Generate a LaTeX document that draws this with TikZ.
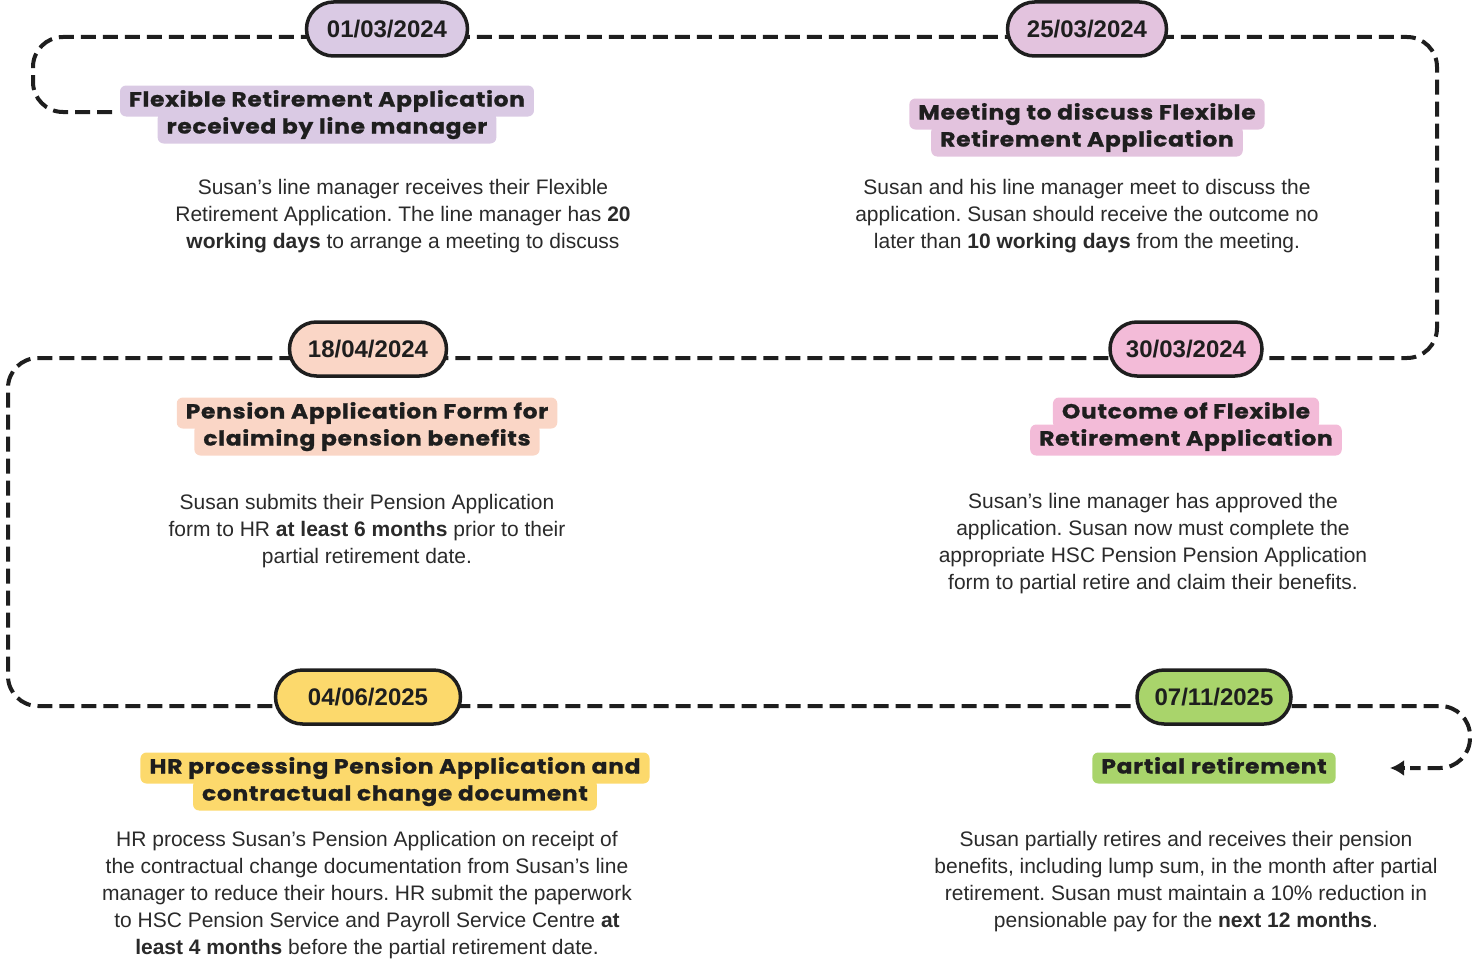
\documentclass[tikz,border=0pt]{standalone}
\usepackage{fontspec}
\usepackage{graphicx}
\setmainfont{Liberation Sans}
\newfontfamily\titlefont{Poppins}[LetterSpace=3, BoldFeatures={FakeBold=0.9}]
\newcommand{\ttxt}[1]{\scalebox{1.14}[1]{#1}}
\usetikzlibrary{shapes.misc,arrows.meta}
\definecolor{ink}{HTML}{1E1E1E}
\definecolor{bodyc}{HTML}{2A2A2A}
\definecolor{cA}{HTML}{DACAE4}
\definecolor{cB}{HTML}{E3C3DE}
\definecolor{cC}{HTML}{FAD6C6}
\definecolor{cD}{HTML}{F3BBD8}
\definecolor{cE}{HTML}{FCD96C}
\definecolor{cF}{HTML}{A9D46B}
\tikzset{
  flow/.style={draw=ink, line width=4pt, dash pattern=on 15pt off 7pt, rounded corners=30pt},
  pill/.style={rounded rectangle, draw=ink, line width=3.5pt, fill=#1, minimum height=54pt,
    font=\fontsize{24}{28}\selectfont\bfseries, text=ink, inner xsep=4pt},
  ttl/.style={fill=#1, rounded corners=6pt, font=\titlefont\fontsize{20.5}{23}\selectfont\bfseries,
    text=ink, inner xsep=9pt, inner ysep=6pt, text height=15pt, text depth=4pt},
  body/.style={align=center, font=\fontsize{21}{27}\selectfont, text=bodyc}
}
\begin{document}
\frenchspacing
\begin{tikzpicture}[x=1pt,y=-1pt]
\useasboundingbox (0,0) rectangle (1477,958);
% connectors
\coordinate (start) at (112,112);
\coordinate (endp) at (1390,768);
\draw[flow] (start) -- (33,112) -- (33,37) -- (1437,37) -- (1437,358) -- (8,358) -- (8,706) -- (1470,706) -- (1470,768) -- (1410,768);
\draw[draw=ink, line width=4pt, -{Latex[length=14pt,width=16pt]}] (1405,768) -- (endp);
% pills
\node[pill=cA, minimum width=169pt] (p1) at (387,29) {01/03/2024};
\node[pill=cB, minimum width=167pt] (p2) at (1087,29) {25/03/2024};
\node[pill=cC, minimum width=165pt] (p3) at (368,349) {18/04/2024};
\node[pill=cD, minimum width=160pt] (p4) at (1186,349) {30/03/2024};
\node[pill=cE, minimum width=193pt] (p5) at (368,697) {04/06/2025};
\node[pill=cF, minimum width=162pt] (p6) at (1214,697) {07/11/2025};
% titles
\node[ttl=cA] (t1a) at (327,101) {\ttxt{Flexible Retirement Application}};
\node[ttl=cA] (t1b) at (327,128) {\ttxt{received by line manager}};
\node[ttl=cB] (t2a) at (1087,114) {\ttxt{Meeting to discuss Flexible}};
\node[ttl=cB] (t2b) at (1087,141) {\ttxt{Retirement Application}};
\node[ttl=cC] (t3a) at (367,413) {\ttxt{Pension Application Form for}};
\node[ttl=cC] (t3b) at (367,440) {\ttxt{claiming pension benefits}};
\node[ttl=cD] (t4a) at (1186,413) {\ttxt{Outcome of Flexible}};
\node[ttl=cD] (t4b) at (1186,440) {\ttxt{Retirement Application}};
\node[ttl=cE] (t5a) at (395,768) {\ttxt{HR processing Pension Application and}};
\node[ttl=cE] (t5b) at (395,795) {\ttxt{contractual change document}};
\node[ttl=cF] (t6) at (1214,768) {\ttxt{Partial retirement}};
% bodies
\node[body] (b1) at (403,216) {Susan’s line manager receives their Flexible\\Retirement Application. The line manager has \textbf{20}\\\textbf{working days} to arrange a meeting to discuss};
\node[body] (b2) at (1087,216) {Susan and his line manager meet to discuss the\\application. Susan should receive the outcome no\\later than \textbf{10 working days} from the meeting.};
\node[body] (b3) at (367,531) {Susan submits their Pension Application\\form to HR \textbf{at least 6 months} prior to their\\partial retirement date.};
\node[body] (b4) at (1153,544) {Susan’s line manager has approved the\\application. Susan now must complete the\\appropriate HSC Pension Pension Application\\form to partial retire and claim their benefits.};
\node[body] (b5) at (367,895) {HR process Susan's Pension Application on receipt of\\the contractual change documentation from Susan's line\\manager to reduce their hours. HR submit the paperwork\\to HSC Pension Service and Payroll Service Centre \textbf{at}\\\textbf{least 4 months} before the partial retirement date.};
\node[body] (b6) at (1186,882) {Susan partially retires and receives their pension\\benefits, including lump sum, in the month after partial\\retirement. Susan must maintain a 10\% reduction in\\pensionable pay for the \textbf{next 12 months}.};
\end{tikzpicture}
\end{document}
